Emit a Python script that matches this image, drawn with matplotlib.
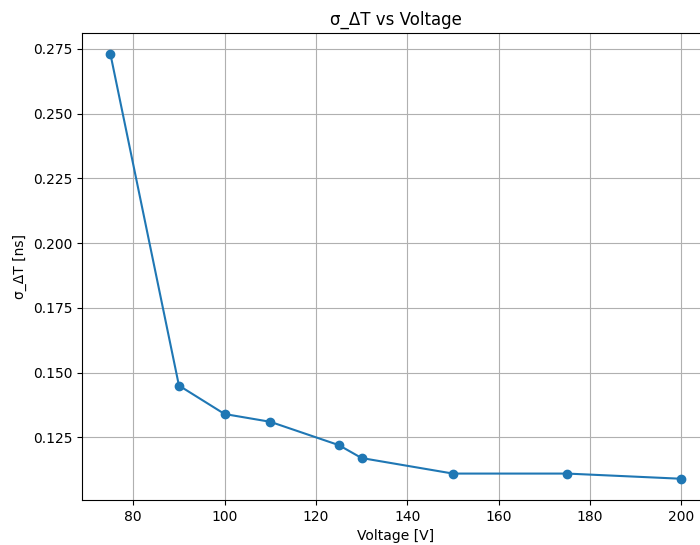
import matplotlib.pyplot as plt

# Data
voltage = [75, 90, 100, 110, 125, 130, 150, 175, 200]
sigma_dt = [0.273, 0.145, 0.134, 0.131, 0.122, 0.117, 0.111, 0.111, 0.109]

fig = plt.figure(figsize=(7, 5.45), dpi=100)
# axes run past the right edge, as in the reference
ax = fig.add_axes([0.117, 0.0826, 0.897, 0.857])
ax.plot(voltage, sigma_dt, marker='o', linestyle='-')
ax.set_xlabel("Voltage [V]")
ax.set_ylabel("σ_ΔT [ns]")
ax.set_title("σ_ΔT vs Voltage")
ax.grid(True)

fig.savefig("out.png", dpi=100)
